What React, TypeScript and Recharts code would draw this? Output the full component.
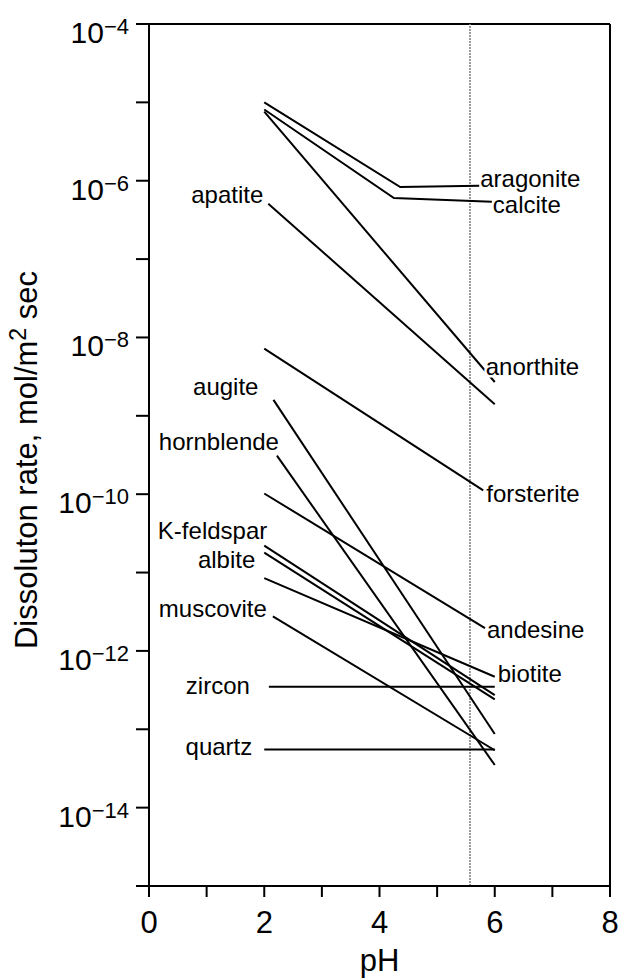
import React from 'react';
import { LineChart, Line, XAxis, YAxis, ReferenceLine } from 'recharts';

// ---- data (pH, dissolution rate mol/m^2 sec) ----
const aragonite = [{ ph: 2, rate: 1.0e-5 }, { ph: 4.36, rate: 8.3e-7 }, { ph: 5.73, rate: 8.6e-7 }];
const calcite = [{ ph: 2, rate: 8.1e-6 }, { ph: 4.25, rate: 6.0e-7 }, { ph: 5.95, rate: 5.4e-7 }];
const anorthite = [{ ph: 2, rate: 7.6e-6 }, { ph: 6, rate: 2.7e-9 }];
const apatite = [{ ph: 2.07, rate: 5.1e-7 }, { ph: 6, rate: 1.4e-9 }];
const forsterite = [{ ph: 2, rate: 7.2e-9 }, { ph: 5.8, rate: 1.12e-10 }];
const augite = [{ ph: 2.16, rate: 1.6e-9 }, { ph: 6, rate: 8.7e-14 }];
const hornblende = [{ ph: 2.22, rate: 3.1e-10 }, { ph: 6, rate: 3.5e-14 }];
const andesine = [{ ph: 2, rate: 1.02e-10 }, { ph: 5.83, rate: 1.95e-12 }];
const kfeldspar = [{ ph: 2, rate: 2.2e-11 }, { ph: 6, rate: 2.73e-13 }];
const albite = [{ ph: 2, rate: 1.8e-11 }, { ph: 6, rate: 2.41e-13 }];
const biotite = [{ ph: 2, rate: 8.5e-12 }, { ph: 6, rate: 4.68e-13 }];
const muscovite = [{ ph: 2.15, rate: 2.75e-12 }, { ph: 6, rate: 5.4e-14 }];
const zircon = [{ ph: 2.08, rate: 3.5e-13 }, { ph: 6, rate: 3.5e-13 }];
const quartz = [{ ph: 2, rate: 5.5e-14 }, { ph: 6, rate: 5.5e-14 }];

const xTicks = [0, 1, 2, 3, 4, 5, 6, 7, 8];
const xTickLabels = ['0', '', '2', '', '4', '', '6', '', '8'];
const yTicks = [1e-15, 1e-14, 1e-13, 1e-12, 1e-11, 1e-10, 1e-9, 1e-8, 1e-7, 1e-6, 1e-5, 1e-4];
const yTickLabels = ['', '−14', '', '−12', '', '−10', '', '−8', '', '−6', '', '−4'];
const rainPH = 5.57;

const series = [
  { name: 'aragonite', data: aragonite },
  { name: 'calcite', data: calcite },
  { name: 'anorthite', data: anorthite },
  { name: 'apatite', data: apatite },
  { name: 'forsterite', data: forsterite },
  { name: 'augite', data: augite },
  { name: 'hornblende', data: hornblende },
  { name: 'andesine', data: andesine },
  { name: 'K-feldspar', data: kfeldspar },
  { name: 'albite', data: albite },
  { name: 'biotite', data: biotite },
  { name: 'muscovite', data: muscovite },
  { name: 'zircon', data: zircon },
  { name: 'quartz', data: quartz },
];

// label placement (style, not data): side of line and pixel offset from that end
const labelPlace: Record<string, { side: 'start' | 'end'; dx: number; dy: number; halo?: boolean }> = {
  aragonite: { side: 'end', dx: 1, dy: 1 },
  calcite: { side: 'end', dx: 1, dy: 11 },
  anorthite: { side: 'end', dx: -9, dy: -7, halo: true },
  forsterite: { side: 'end', dx: 3, dy: 12 },
  andesine: { side: 'end', dx: 2, dy: 10 },
  biotite: { side: 'end', dx: 3, dy: 5 },
  apatite: { side: 'start', dx: -5, dy: -1 },
  augite: { side: 'start', dx: -15, dy: -5 },
  hornblende: { side: 'start', dx: 2, dy: -6 },
  'K-feldspar': { side: 'start', dx: 3, dy: -7 },
  albite: { side: 'start', dx: -9, dy: 15 },
  muscovite: { side: 'start', dx: -6, dy: 1 },
  zircon: { side: 'start', dx: -19, dy: 7 },
  quartz: { side: 'start', dx: -12, dy: 5 },
};

const FONT = '"Liberation Sans", Arial, Helvetica, sans-serif';

const XTick = (props: any) => {
  const { x, y, index } = props;
  const label = xTickLabels[index];
  if (!label) return <g />;
  return (
    <text x={x} y={y + 36} textAnchor="middle" fontSize={31} fill="#000" fontFamily={FONT}>
      {label}
    </text>
  );
};

const YTick = (props: any) => {
  const { x, y, index } = props;
  const sup = yTickLabels[index];
  if (!sup) return <g />;
  return (
    <text x={x - 7} y={y + 19} textAnchor="end" fontSize={30} fill="#000" fontFamily={FONT}>
      <tspan>10</tspan>
      <tspan fontSize={22} dy={-9}>{sup}</tspan>
    </text>
  );
};

const makeLabel = (name: string, count: number) => (p: any) => {
  const place = labelPlace[name];
  const idx = place.side === 'start' ? 0 : count - 1;
  if (p.index !== idx || p.x == null || p.y == null) return <g key={`${name}-${p.index}`} />;
  return (
    <text
      key={`${name}-lbl`}
      x={p.x + place.dx}
      y={p.y + place.dy}
      textAnchor={place.side === 'start' ? 'end' : 'start'}
      fontSize={24}
      fill="#000"
      fontFamily={FONT}
      stroke={place.halo ? '#fff' : 'none'}
      strokeWidth={place.halo ? 5 : 0}
      paintOrder="stroke"
    >
      {name}
    </text>
  );
};

const YLabel = (props: any) => {
  const vb = props.viewBox || { x: 0, y: 24, width: 149, height: 862 };
  const cx = 37;
  const cy = vb.y + vb.height / 2 + 5;
  return (
    <text
      transform={`translate(${cx},${cy}) rotate(-90)`}
      textAnchor="middle"
      fontSize={31}
      fill="#000"
      fontFamily={FONT}
    >
      <tspan>Dissoluton rate, mol/m</tspan>
      <tspan fontSize={23} dy={-11}>2</tspan>
      <tspan dy={11}> sec</tspan>
    </text>
  );
};

const XLabel = (props: any) => {
  const vb = props.viewBox || { x: 149, y: 886, width: 461, height: 94 };
  return (
    <text x={vb.x + vb.width / 2} y={971} textAnchor="middle" fontSize={31} fill="#000" fontFamily={FONT}>
      pH
    </text>
  );
};

export default function App() {
  return (
    <div style={{ position: 'absolute', left: 0, top: 0, background: '#fff' }}>
      <LineChart
        width={623}
        height={980}
        margin={{ top: 24, right: 13, bottom: 0, left: 0 }}
        style={{ fontFamily: FONT, background: '#fff' }}
      >
        <XAxis
          type="number"
          dataKey="ph"
          domain={[0, 8]}
          ticks={xTicks}
          interval={0}
          height={94}
          tickSize={11}
          tickMargin={0}
          axisLine={{ stroke: '#000', strokeWidth: 2 }}
          tickLine={{ stroke: '#000', strokeWidth: 2 }}
          tick={<XTick />}
          label={<XLabel />}
          allowDataOverflow
        />
        <YAxis
          type="number"
          scale="log"
          dataKey="rate"
          domain={[1e-15, 1e-4]}
          ticks={yTicks}
          interval={0}
          width={149}
          tickSize={13}
          tickMargin={0}
          axisLine={{ stroke: '#000', strokeWidth: 2 }}
          tickLine={{ stroke: '#000', strokeWidth: 2 }}
          tick={<YTick />}
          label={<YLabel />}
          allowDataOverflow
        />
        <ReferenceLine y={1e-4} stroke="#000" strokeWidth={2} />
        <ReferenceLine x={8} stroke="#000" strokeWidth={2} />
        <ReferenceLine x={rainPH} stroke="#7a7a7a" strokeWidth={1.5} strokeDasharray="2 1" />
        {series.map((s) => (
          <Line
            key={s.name}
            data={s.data}
            dataKey="rate"
            type="linear"
            stroke="#000"
            strokeWidth={2}
            dot={false}
            activeDot={false}
            isAnimationActive={false}
            label={makeLabel(s.name, s.data.length)}
          />
        ))}
      </LineChart>
    </div>
  );
}
